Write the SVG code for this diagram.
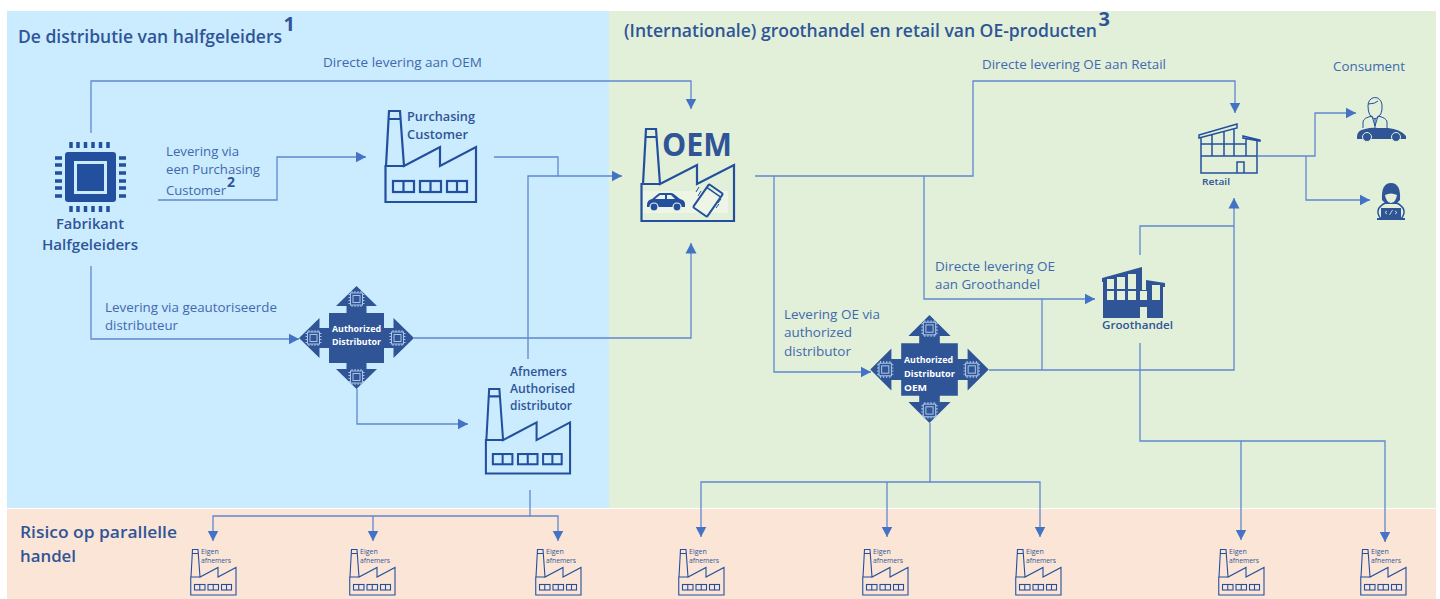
<svg xmlns="http://www.w3.org/2000/svg" xmlns:xlink="http://www.w3.org/1999/xlink" width="1440" height="599" viewBox="0 0 1440 599">
<style>
text{font-family:"Open Sans","Noto Sans","Liberation Sans",sans-serif;fill:#2F5597}
.t{font-size:13px;fill:#4169AE}
.b{font-weight:600}
.h{font-size:18px;font-weight:600}
.w{fill:#fff;font-size:9px;font-weight:700}
.e{font-size:7px}
.c{fill:none;stroke:#5F88D0;stroke-width:1.3}
.s{fill:none;stroke:#23509E}
.f{fill:#2F5597}
.k{fill:#23509E}
</style>
<defs>
<marker id="a" markerUnits="userSpaceOnUse" markerWidth="11" markerHeight="12" refX="10.5" refY="6" orient="auto"><path d="M0 0.5L10.5 6L0 11.500z" fill="#4472C4"/></marker>
<g id="factory"><path class="s" stroke-width="2.2" d="M2 56L5 1H16L20 56L56 37V56L92 37V92H1.500V56H20M4.500 9H16.500"/><g class="s" stroke-width="2.2"><rect x="9" y="71" width="21" height="11"/><rect x="36" y="71" width="21" height="11"/><rect x="63" y="71" width="20" height="11"/><path d="M19.500 71v11M46.500 71v11M73 71v11"/></g></g>
<g id="mini"><rect x="-6" y="-6" width="12" height="12" fill="none" stroke="#A9C4E6" stroke-width="1"/><rect x="-3.500" y="-3.500" width="7" height="7" fill="none" stroke="#A9C4E6" stroke-width="1"/><path d="M-4.500 -8v2M-1.500 -8v2M1.500 -8v2M4.500 -8v2M-4.500 6v2M-1.500 6v2M1.500 6v2M4.500 6v2M-8 -4.500h2M-8 -1.500h2M-8 1.500h2M-8 4.500h2M6 -4.500h2M6 -1.500h2M6 1.500h2M6 4.500h2" stroke="#A9C4E6" stroke-width="1"/></g>
<g id="dist"><path class="f" d="M0 -52L20.500 -32H10V-25H27.500V-10H37V-20L57.500 0L37 20V10H27.500V25H10V31H20.500L0 51L-20.500 31H-10V25H-27.500V10H-37V20L-57.500 0L-37 -20V-10H-27.500V-25H-10V-32H-20.500z"/><use xlink:href="#mini" href="#mini" y="-39"/><use xlink:href="#mini" href="#mini" y="39"/><use xlink:href="#mini" href="#mini" x="-43"/><use xlink:href="#mini" href="#mini" x="41"/></g>
<g id="eigen"><use href="#factory" xlink:href="#factory" transform="scale(0.5)"/><text class="e" x="11" y="5">Eigen</text><text class="e" x="11" y="14" textLength="30" lengthAdjust="spacingAndGlyphs">afnemers</text></g>
</defs>
<g id="backgrounds">
<rect x="7" y="11" width="602" height="497" fill="#CBEBFF"/>
<rect x="609" y="11" width="827" height="497" fill="#E2F0D9"/>
<rect x="7" y="509" width="1429" height="90" fill="#FBE5D6"/>
</g>
<g id="titles">
<text class="h" x="18" y="43" textLength="264" lengthAdjust="spacingAndGlyphs">De distributie van halfgeleiders</text>
<text x="283.500" y="31" font-size="20" font-weight="700">1</text>
<text class="h" x="624" y="37" textLength="473" lengthAdjust="spacingAndGlyphs">(Internationale) groothandel en retail van OE-producten</text>
<text x="1098.500" y="26" font-size="20" font-weight="700">3</text>
<text x="20" y="538" font-size="17" font-weight="600" textLength="157" lengthAdjust="spacingAndGlyphs">Risico op parallelle</text>
<text x="20" y="562" font-size="17" font-weight="600" textLength="56" lengthAdjust="spacingAndGlyphs">handel</text>
</g>
<g id="connectors">
<path class="c" marker-end="url(#a)" d="M91 133V81H691V109"/>
<path class="c" marker-end="url(#a)" d="M158 200H277V157H366"/>
<path class="c" marker-end="url(#a)" d="M494 157H558V176H622"/>
<path class="c" d="M528 359V176H558"/>
<path class="c" marker-end="url(#a)" d="M91 266V339H299"/>
<path class="c" marker-end="url(#a)" d="M414 338H691V243"/>
<path class="c" marker-end="url(#a)" d="M357 389V424H468"/>
<path class="c" marker-end="url(#a)" d="M755 176H973V81H1235V113"/>
<path class="c" marker-end="url(#a)" d="M774 176V372H871"/>
<path class="c" marker-end="url(#a)" d="M924 176V299H1095"/>
<path class="c" marker-end="url(#a)" d="M989 370H1234V198"/>
<path class="c" d="M1042 370V299"/>
<path class="c" d="M1140 255V226H1234"/>
<path class="c" marker-end="url(#a)" d="M1140 343V441H1241V540"/>
<path class="c" marker-end="url(#a)" d="M1241 441H1385V542"/>
<path class="c" marker-end="url(#a)" d="M1258 156H1315V113H1356"/>
<path class="c" marker-end="url(#a)" d="M1306 156V200H1370"/>
<path class="c" marker-end="url(#a)" d="M530 490V516H213V541"/>
<path class="c" marker-end="url(#a)" d="M373 516V541"/>
<path class="c" marker-end="url(#a)" d="M530 516H558V541"/>
<path class="c" marker-end="url(#a)" d="M930 423V482H701V537"/>
<path class="c" marker-end="url(#a)" d="M887 482V537"/>
<path class="c" marker-end="url(#a)" d="M930 482H1040V537"/>
</g>
<g id="connector-labels">
<text class="t" x="323" y="67" textLength="159" lengthAdjust="spacingAndGlyphs">Directe levering aan OEM</text>
<text class="t" x="166" y="156" textLength="73" lengthAdjust="spacingAndGlyphs">Levering via</text>
<text class="t" x="166" y="174" textLength="94" lengthAdjust="spacingAndGlyphs">een Purchasing</text>
<text class="t" x="166" y="195" textLength="60" lengthAdjust="spacingAndGlyphs">Customer</text>
<text x="227" y="187" font-size="14" font-weight="700">2</text>
<text class="t" x="105" y="312" textLength="172" lengthAdjust="spacingAndGlyphs">Levering via geautoriseerde</text>
<text class="t" x="105" y="330" textLength="73" lengthAdjust="spacingAndGlyphs">distributeur</text>
<text class="t" x="982" y="69" textLength="184" lengthAdjust="spacingAndGlyphs">Directe levering OE aan Retail</text>
<text class="t" x="935" y="271" textLength="120" lengthAdjust="spacingAndGlyphs">Directe levering OE</text>
<text class="t" x="935" y="289" textLength="105" lengthAdjust="spacingAndGlyphs">aan Groothandel</text>
<text class="t" x="784" y="319" textLength="96" lengthAdjust="spacingAndGlyphs">Levering OE via</text>
<text class="t" x="784" y="337" textLength="68" lengthAdjust="spacingAndGlyphs">authorized</text>
<text class="t" x="784" y="356" textLength="67" lengthAdjust="spacingAndGlyphs">distributor</text>
</g>
<g id="fabrikant">
<rect class="k" x="65" y="152" width="51" height="50" rx="3"/>
<rect x="75.500" y="162.500" width="30" height="30" fill="none" stroke="#CBEBFF" stroke-width="3"/>
<path d="M71 142v6M78 142v6M85.500 142v6M93 142v6M100.500 142v6M108 142v6M71 206v6M78 206v6M85.500 206v6M93 206v6M100.500 206v6M108 206v6M55 158h7M55 165h7M55 173h7M55 181h7M55 188h7M55 196h7M119 158h7M119 165h7M119 173h7M119 181h7M119 188h7M119 196h7" stroke="#23509E" stroke-width="3.500" fill="none"/>
<text class="b" x="56" y="229" font-size="15" textLength="68" lengthAdjust="spacingAndGlyphs">Fabrikant</text>
<text class="b" x="42" y="250" font-size="15" textLength="96" lengthAdjust="spacingAndGlyphs">Halfgeleiders</text>
</g>
<g id="purchasing-customer">
<use href="#factory" xlink:href="#factory" transform="translate(384 110)"/>
<text class="b" x="407" y="121" font-size="12" textLength="68" lengthAdjust="spacingAndGlyphs">Purchasing</text>
<text class="b" x="407" y="139" font-size="12" textLength="61" lengthAdjust="spacingAndGlyphs">Customer</text>
</g>
<g id="authorized-distributor">
<use href="#dist" xlink:href="#dist" transform="translate(356.500 338)"/>
<text class="w" x="332" y="332" textLength="49" lengthAdjust="spacingAndGlyphs">Authorized</text>
<text class="w" x="332" y="345" textLength="49" lengthAdjust="spacingAndGlyphs">Distributor</text>
</g>
<g id="afnemers">
<use href="#factory" xlink:href="#factory" transform="translate(484.500 388) scale(0.93)"/>
<text class="b" x="510" y="376" font-size="12" textLength="57" lengthAdjust="spacingAndGlyphs">Afnemers</text>
<text class="b" x="510" y="393" font-size="12" textLength="65" lengthAdjust="spacingAndGlyphs">Authorised</text>
<text class="b" x="510" y="410" font-size="12" textLength="62" lengthAdjust="spacingAndGlyphs">distributor</text>
</g>
<g id="oem">
<rect x="643" y="191" width="85" height="22" fill="#EDF6E6"/>
<path class="s" stroke-width="2.200" d="M643 184L646 129H656L660 184L697 165V184L734 165V221H641.500V184H660M645 137H657"/>
<text x="662" y="156" font-size="32" font-weight="700" textLength="70" lengthAdjust="spacingAndGlyphs">OEM</text>
<path class="k" d="M647 205Q647 200 652 199L658 194Q659 193 661 193H671Q673 193 675 195L680 199Q685 200 685 204V207H647z"/>
<path d="M655 199L660 195H665V199zM667 195H671L675 199H667z" fill="#EDF6E6"/>
<circle class="k" cx="654" cy="207" r="4" stroke="#EDF6E6" stroke-width="1.200"/><circle class="k" cx="677" cy="207" r="4" stroke="#EDF6E6" stroke-width="1.200"/>
<g transform="rotate(35 708 200.500)"><rect class="s" stroke-width="2" x="699.500" y="186.500" width="17" height="28" rx="1.500"/><path class="s" stroke-width="1.500" d="M699.500 190.500H716.500"/></g>
<path class="s" stroke-width="1" d="M696 192l3-5M698 196l3-5M718 203l3-4M716 208l3-4"/>
</g>
<g id="authorized-distributor-oem">
<use href="#dist" xlink:href="#dist" transform="translate(929.500 369.500) scale(1.030 1.050)"/>
<text class="w" x="904" y="363" textLength="49" lengthAdjust="spacingAndGlyphs">Authorized</text>
<text class="w" x="904" y="377" textLength="51" lengthAdjust="spacingAndGlyphs">Distributor</text>
<text class="w" x="904" y="391" textLength="23" lengthAdjust="spacingAndGlyphs">OEM</text>
</g>
<g id="groothandel">
<path class="f" d="M1102 278L1142 267V290H1146V280L1165 283V287H1163V318H1147V307H1140V318H1103V282H1102z"/>
<path d="M1107 279h7v10h-7zM1117 277h8v12h-8zM1128 274h8v15h-8zM1107 291h7v9h-7zM1117 291h8v9h-8zM1128 291h8v9h-8zM1140 291h7v9h-7zM1152 285h8v15h-8z" fill="#E2F0D9"/>
<text class="b" x="1102" y="329" font-size="11" textLength="71" lengthAdjust="spacingAndGlyphs">Groothandel</text>
</g>
<g id="retail">
<path class="s" stroke-width="1.500" d="M1199 135L1237 124V128L1199 138zM1243 136L1260 140V141L1243 138zM1201 138V173H1257V141M1212 135V156M1224 132V156M1234 129V156M1246 139V156M1201 144H1246M1201 156H1257M1237 173V162H1244V173"/>
<text class="b" x="1202" y="185" font-size="9" textLength="28" lengthAdjust="spacingAndGlyphs">Retail</text>
</g>
<g id="consument">
<text class="t" x="1333" y="71" textLength="72" lengthAdjust="spacingAndGlyphs">Consument</text>
<path class="s" stroke-width="1" d="M1368 106A7 8 0 0 1 1382 105Q1383 116 1375 119Q1368 117 1368 106M1368 104Q1375 104 1378 101M1363 128V122Q1363 118 1372 116L1375 126L1378 116Q1387 118 1387 122V128M1375 118V128"/>
<path class="f" d="M1357 137Q1357 130 1365 129Q1372 127 1378 128H1388Q1400 129 1406 136V139H1357z"/>
<circle class="f" cx="1367" cy="137" r="4.500" stroke="#E2F0D9"/><circle class="f" cx="1396" cy="137" r="4.500" stroke="#E2F0D9"/>
<path class="f" d="M1382 200Q1381 183 1391 183Q1401 183 1400 200L1396 204H1386z"/>
<path d="M1385 195Q1391 192 1397 195Q1396 202 1391 203Q1386 202 1385 195" fill="#E2F0D9"/>
<path class="s" stroke-width="1.500" d="M1381 219Q1376 213 1379 208Q1383 203 1387 203M1401 219Q1406 213 1403 208Q1399 203 1395 203"/>
<path class="f" d="M1381 208H1401V219H1381z"/><path d="M1387 214l-2 -1.500 2 -1.500M1395 211l2 1.500 -2 1.500M1392.500 210l-3 5" stroke="#E2F0D9" fill="none" stroke-width="0.800"/>
<rect class="f" x="1377" y="218" width="28" height="2"/>
</g>
<g id="eigen-afnemers">
<use href="#eigen" xlink:href="#eigen" x="190" y="549"/>
<use href="#eigen" xlink:href="#eigen" x="349" y="549"/>
<use href="#eigen" xlink:href="#eigen" x="535" y="549"/>
<use href="#eigen" xlink:href="#eigen" x="678" y="549"/>
<use href="#eigen" xlink:href="#eigen" x="862" y="549"/>
<use href="#eigen" xlink:href="#eigen" x="1015" y="549"/>
<use href="#eigen" xlink:href="#eigen" x="1218" y="549"/>
<use href="#eigen" xlink:href="#eigen" x="1360" y="549"/>
</g>
</svg>
